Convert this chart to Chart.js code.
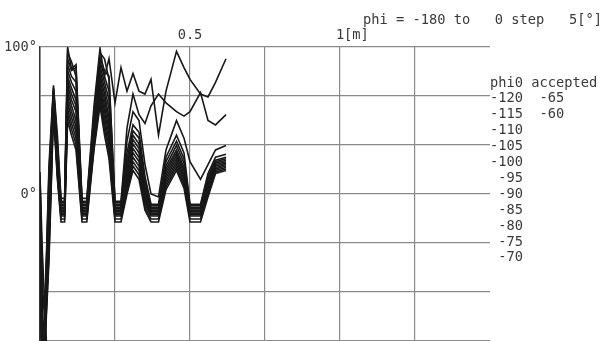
<!DOCTYPE html>
<html>
<head>
<meta charset="utf-8">
<script src="https://cdn.jsdelivr.net/npm/chart.js@4/dist/chart.umd.min.js"></script>
<style>
  html, body { margin: 0; padding: 0; background: #ffffff; }
  #wrap { width: 603px; height: 341px; position: relative; }
</style>
</head>
<body>
<div id="wrap"><canvas id="c" width="603" height="341"></canvas></div>
<script>
// ---- data ----
// position along the path [m]
const positionM = [0, 0.008, 0.03, 0.045, 0.058, 0.07, 0.082, 0.092, 0.105, 0.12, 0.14, 0.156, 0.18, 0.2, 0.215, 0.23,
                   0.25, 0.27, 0.29, 0.31, 0.33, 0.35, 0.37, 0.395, 0.42, 0.455, 0.48, 0.5, 0.535, 0.56, 0.585, 0.62];

// phase [deg] for each starting phi0
const phiM120 = [5, -140, 20, 74, 40, -3, -3, 100, 85, 88, -3, -3, 60, 99, 80, 92, 62, 86, 70, 82, 70, 68, 78, 40, 70, 97, 86, 78, 68, 66, 76, 92];
const phiM115 = [4, -140, 15, 72, 35, -5, -5, 96, 90, 80, -5, -5, 55, 96, 92, 78, -5, -5, 45, 68, 54, 48, 60, 68, 62, 56, 53, 56, 69, 50, 47, 54];
const phiM110 = [3, -140, 10, 71, 32, -6, -6, 92, 84, 86, -6, -6, 52, 93, 84, 80, -6, -6, 36, 56, 50, 20, 0, -2, 30, 50, 38, 22, 10, 20, 30, 33];
const phiM105 = [2, -140, 5, 70, 30, -7, -7, 88, 80, 76, -7, -7, 50, 90, 80, 70, -7, -7, 28, 47, 42, 12, -7, -7, 25, 40, 28, -7, -7, 14, 25, 27];
const phiM100 = [1, -140, 0, 69, 28, -8, -8, 84, 76, 70, -8, -8, 48, 87, 76, 64, -8, -8, 24, 43, 38, 8, -8, -8, 22, 36, 24, -8, -8, 12, 23, 25];
const phiM95  = [0, -140, -5, 68, 26, -9, -9, 80, 72, 64, -9, -9, 46, 84, 72, 58, -9, -9, 20, 40, 34, 5, -9, -9, 19, 33, 21, -9, -9, 10, 22, 24];
const phiM90  = [0, -140, -10, 67, 24, -10, -10, 77, 68, 60, -10, -10, 44, 81, 68, 52, -10, -10, 17, 37, 31, 3, -10, -10, 17, 30, 18, -10, -10, 8, 21, 23];
const phiM85  = [-1, -140, -15, 66, 22, -11, -11, 74, 64, 56, -11, -11, 42, 78, 64, 48, -11, -11, 14, 34, 28, 1, -11, -11, 15, 28, 16, -11, -11, 6, 20, 22];
const phiM80  = [-2, -140, -20, 65, 20, -12, -12, 70, 60, 50, -12, -12, 40, 75, 60, 44, -12, -12, 11, 31, 25, -1, -12, -12, 13, 26, 14, -12, -12, 5, 19, 21];
const phiM75  = [-3, -140, -25, 64, 18, -13, -13, 66, 56, 46, -13, -13, 38, 72, 56, 40, -13, -13, 8, 28, 22, -3, -13, -13, 11, 24, 12, -13, -13, 4, 18, 20];
const phiM70  = [-4, -140, -30, 62, 16, -14, -14, 62, 52, 42, -14, -14, 36, 69, 52, 36, -14, -14, 6, 25, 19, -5, -14, -14, 9, 22, 10, -14, -14, 3, 17, 19];
const phiM65  = [-5, -140, -35, 60, 14, -15, -15, 58, 48, 38, -15, -15, 34, 66, 48, 32, -15, -15, 4, 22, 16, -7, -15, -15, 7, 20, 8, -15, -15, 2, 16, 18];
const phiM60  = [-6, -140, -40, 58, 12, -17, -17, 54, 44, 34, -17, -17, 32, 63, 44, 28, -17, -17, 2, 19, 13, -9, -17, -17, 5, 18, 6, -17, -17, 0, 15, 17];
const phiM125 = [-8, -140, -45, 55, 10, -19, -19, 50, 40, 30, -19, -19, 30, 60, 40, 24, -19, -19, 0, 16, 10, -11, -19, -19, 3, 16, 4, -19, -19, -2, 14, 16];
// phases that are lost right after the start (only the first samples)
const phiM130 = [10, -60, -140];
const phiM135 = [15, -80, -140];
const phiM140 = [8, -100, -140];
const phiM145 = [12, -40, -140];

const seriesList = [phiM120, phiM115, phiM110, phiM105, phiM100, phiM95, phiM90, phiM85, phiM80, phiM75, phiM70,
                    phiM65, phiM60, phiM125, phiM130, phiM135, phiM140, phiM145];

// tick values and labels
const xTickValues = [0, 0.25, 0.5, 0.75, 1, 1.25, 1.5];
const yTickValues = [-100, -66.6667, -33.3333, 0, 33.3333, 66.6667, 100];
const xTickLabels = { '0.5': '0.5', '1': '   1[m]' };
const yTickLabels = { '100': '100°', '0': '0°' };

// header and legend text
const titleText = 'phi = -180 to   0 step   5[°]';
const legendHeader = 'phi0 accepted';
const legendPhi0 = ['-120', '-115', '-110', '-105', '-100', ' -95', ' -90', ' -85', ' -80', ' -75', ' -70'];
const legendAccepted = ['-65', '-60'];

// ---- chart ----
const MONO = '"DejaVu Sans Mono", "Liberation Mono", monospace';
const TEXT_COLOR = '#3a3a3a';

const datasets = seriesList.map(s => ({
  data: s.map((y, i) => ({ x: positionM[i], y: y })),
  showLine: true,
  borderColor: '#181818',
  borderWidth: 1.6,
  pointRadius: 0,
  tension: 0,
  fill: false
}));

const textPlugin = {
  id: 'textPlugin',
  afterDraw(chart) {
    const ctx = chart.ctx;
    ctx.save();
    ctx.fillStyle = TEXT_COLOR;
    ctx.font = '13.7px ' + MONO;
    ctx.textBaseline = 'middle';
    ctx.textAlign = 'left';
    ctx.fillText(titleText, 363, 20);
    const lx = 490;
    const ly0 = 83;
    const step = 15.9;
    ctx.fillText(legendHeader, lx, ly0);
    legendPhi0.forEach((t, i) => {
      let row = t;
      if (i < legendAccepted.length) row = t + '  ' + legendAccepted[i];
      ctx.fillText(row, lx, ly0 + step * (i + 1));
    });
    ctx.restore();
  }
};

new Chart(document.getElementById('c'), {
  type: 'scatter',
  data: { datasets },
  options: {
    responsive: false,
    devicePixelRatio: 1,
    animation: false,
    layout: { padding: { left: 0, right: 113, top: 0, bottom: 0 } },
    plugins: { legend: { display: false }, tooltip: { enabled: false }, title: { display: false } },
    scales: {
      x: {
        type: 'linear',
        position: 'top',
        min: 0, max: 1.5,
        afterBuildTicks: s => { s.ticks = xTickValues.map(v => ({ value: v })); },
        afterFit: s => { s.height = 47; s.paddingLeft = 0; s.paddingRight = 0; },
        ticks: {
          autoSkip: false, maxRotation: 0, padding: 3,
          color: TEXT_COLOR,
          font: { family: MONO, size: 13.7 },
          callback: v => xTickLabels[String(v)] || ''
        },
        grid: {
          drawTicks: false,
          color: ctx => (ctx.tick && ctx.tick.value === 1.5) ? 'rgba(0,0,0,0)' : '#8a8a8a',
          lineWidth: 1.2
        },
        border: { display: false }
      },
      y: {
        type: 'linear',
        min: -100, max: 100,
        afterBuildTicks: s => { s.ticks = yTickValues.map(v => ({ value: v })); },
        afterFit: s => { s.width = 40; s.paddingTop = 0; s.paddingBottom = 0; },
        ticks: {
          autoSkip: false, padding: 3,
          color: TEXT_COLOR,
          font: { family: MONO, size: 13.7 },
          callback: v => yTickLabels[String(Math.round(v))] !== undefined && Math.abs(v - Math.round(v)) < 1e-6 ? yTickLabels[String(Math.round(v))] : ''
        },
        grid: { drawTicks: false, color: '#8a8a8a', lineWidth: 1.2 },
        border: { display: true, color: '#333333', width: 1.5 }
      }
    }
  },
  plugins: [textPlugin]
});
</script>
</body>
</html>
